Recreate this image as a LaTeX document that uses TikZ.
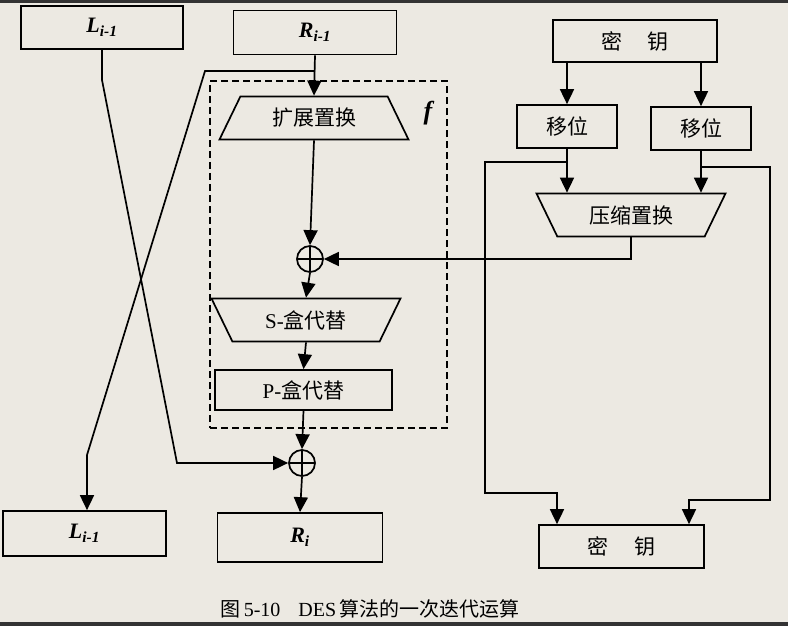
\documentclass[tikz,border=0pt]{standalone}
\usepackage{fontspec}
\setmainfont{Liberation Serif}
\newfontfamily\cjk{Noto Sans CJK SC}
\usetikzlibrary{arrows.meta,shapes.geometric}
\definecolor{paper}{RGB}{236,233,226}
\begin{document}
\begin{tikzpicture}[
  x=1pt, y=-1pt,
  line width=1.7pt,
  >={Triangle[length=15pt,width=14pt]},
  block/.style={rectangle, draw, inner sep=0pt},
  trap/.style={trapezium, draw, trapezium angle=43, trapezium stretches body, minimum width=189pt, minimum height=43pt, inner sep=0pt, font=\fontsize{21}{24}\selectfont\cjk},
  xor/.style={circle, draw, minimum size=26pt, inner sep=0pt, path picture={\draw[line width=1.4pt] (path picture bounding box.north) -- (path picture bounding box.south) (path picture bounding box.west) -- (path picture bounding box.east);}},
  cn/.style={font=\fontsize{21}{24}\selectfont\cjk},
  var/.style={font=\fontsize{22}{24}\selectfont\bfseries\itshape}
]
\fill[paper] (0,0) rectangle (788,626);
\fill[black!80] (0,0) rectangle (788,3);
\fill[black!80] (0,622) rectangle (788,626);

\node[block, dashed, dash pattern=on 7pt off 4pt, line width=1.5pt, minimum width=237pt, minimum height=347pt] (fbox) at (328.5,254.5) {};
\node[font=\fontsize{26}{28}\selectfont\bfseries\itshape] (flabel) at (428,113) {f};

\node[block, var, minimum width=162pt, minimum height=43pt] (lprev) at (102,27.5) {L\textsubscript{i-1}};
\node[block, var, minimum width=163pt, minimum height=44pt] (rprev) at (315,32.5) {R\textsubscript{i-1}};
\node[block, var, minimum width=163pt, minimum height=45pt] (lnext) at (84.5,533.5) {L\textsubscript{i-1}};
\node[block, var, minimum width=165pt, minimum height=49pt] (rnext) at (300,537.5) {R\textsubscript{i}};

\node[trap] (exp) at (314,118) {扩展置换};
\node[xor] (xora) at (310,259) {};
\node[trap, shape border rotate=180] (sbox) at (306,320) {{\rmfamily S-}盒代替};
\node[block, cn, minimum width=177pt, minimum height=40pt] (pbox) at (303.5,390) {{\rmfamily P-}盒代替};
\node[xor] (xorb) at (302,463) {};

\node[block, cn, minimum width=164pt, minimum height=42pt] (ktop) at (635,41) {密\hspace{1.2em}钥};
\node[block, cn, minimum width=100pt, minimum height=43pt] (shl) at (567,126.5) {移位};
\node[block, cn, minimum width=100pt, minimum height=43pt] (shr) at (701,128.5) {移位};
\node[trap, shape border rotate=180] (cmp) at (631,215) {压缩置换};
\node[block, cn, minimum width=165pt, minimum height=43pt] (kbot) at (621.5,546.5) {密\hspace{1.2em}钥};

\node[font=\fontsize{20}{22}\selectfont] (caption) at (370,609) {{\cjk 图}\,5-10\hspace{0.9em}DES\,{\cjk 算法的一次迭代运算}};

\coordinate (lbenda) at (102,80);
\coordinate (lbendb) at (177,463);
\coordinate (rsplit) at (315,71);
\coordinate (rbenda) at (205,71);
\coordinate (rbendb) at (87,455);
\coordinate (klsplit) at (567,162);
\coordinate (klbenda) at (485,162);
\coordinate (klbendb) at (485,493);
\coordinate (klbendc) at (557,493);
\coordinate (krsplit) at (701,167);
\coordinate (krbenda) at (770,167);
\coordinate (krbendb) at (770,500);
\coordinate (krbendc) at (689,500);

\draw[->] (lprev.south) -- (lbenda) -- (lbendb) -- (xorb.west);
\draw[->] (rprev.south) -- (exp.north);
\draw[->] (rsplit) -- (rbenda) -- (rbendb) -- (rbendb |- lnext.north);
\draw[->] (exp.south) -- (xora.north);
\draw[->] (xora.south) -- (sbox.north);
\draw[->] (sbox.south) -- (pbox.north);
\draw[->] (pbox.south) -- (xorb.north);
\draw[->] (xorb.south) -- (rnext.north);

\draw[->] (shl |- ktop.south) -- (shl.north);
\draw[->] (shr |- ktop.south) -- (shr.north);
\draw[->] (shl.south) -- (shl.south |- cmp.north);
\draw[->] (shr.south) -- (shr.south |- cmp.north);
\draw[->] (cmp.south) |- (xora.east);
\draw[->] (klsplit) -- (klbenda) -- (klbendb) -- (klbendc) -- (klbendc |- kbot.north);
\draw[->] (krsplit) -- (krbenda) -- (krbendb) -- (krbendc) -- (krbendc |- kbot.north);
\end{tikzpicture}
\end{document}
